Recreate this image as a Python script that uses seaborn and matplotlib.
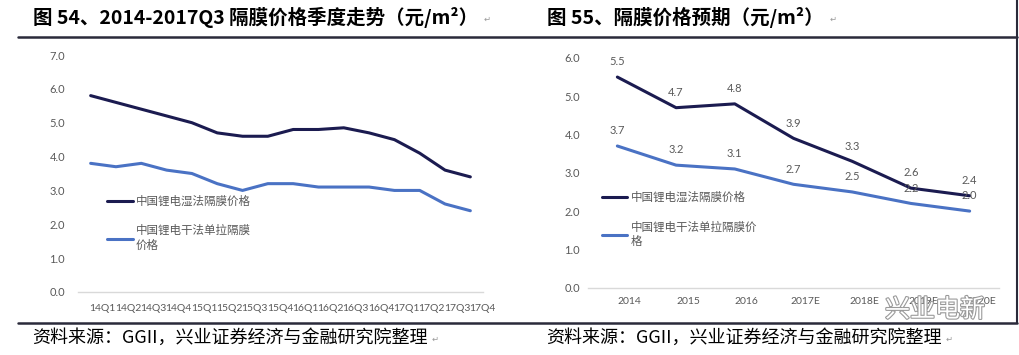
import matplotlib
matplotlib.use("Agg")
import matplotlib.pyplot as plt
import matplotlib.transforms as mtransforms
import matplotlib.patheffects as pe
from matplotlib.lines import Line2D
from matplotlib.ticker import FixedLocator
import pandas as pd
import seaborn as sns

# =============================
# DATOS
# =============================
quarters = ["14Q1", "14Q2", "14Q3", "14Q4", "15Q1", "15Q2", "15Q3", "15Q4",
            "16Q1", "16Q2", "16Q3", "16Q4", "17Q1", "17Q2", "17Q3", "17Q4"]
wet_quarterly = [5.8, 5.6, 5.4, 5.2, 5.0, 4.7, 4.6, 4.6,
                 4.8, 4.8, 4.85, 4.7, 4.5, 4.1, 3.6, 3.4]
dry_quarterly = [3.8, 3.7, 3.8, 3.6, 3.5, 3.2, 3.0, 3.2,
                 3.2, 3.1, 3.1, 3.1, 3.0, 3.0, 2.6, 2.4]

years = ["2014", "2015", "2016", "2017E", "2018E", "2019E", "2020E"]
wet_forecast = [5.5, 4.7, 4.8, 3.9, 3.3, 2.6, 2.4]
dry_forecast = [3.7, 3.2, 3.1, 2.7, 2.5, 2.2, 2.0]

wet_name = "中国锂电湿法隔膜价格"
dry_name_left = "中国锂电干法单拉隔膜\n价格"
dry_name_right = "中国锂电干法单拉隔膜价\n格"

title_left = "图 54、2014-2017Q3 隔膜价格季度走势（元/m²）"
title_right = "图 55、隔膜价格预期（元/m²）"
source_text = "资料来源：GGII，兴业证券经济与金融研究院整理"

DARK = "#1b1b50"
LIGHT = "#4a72c4"
GRAY = "#595959"
AXIS_GRAY = "#d9d9d9"

# =============================
# ESTILO
# =============================
sns.set_style("white")
plt.rcParams["font.family"] = ["Noto Sans CJK SC", "DejaVu Sans"]

W, H = 1020, 355
fig = plt.figure(figsize=(W / 100, H / 100), dpi=100)


def px_box(x0, x1, ytop, ybot):
    # caja de ejes en píxeles -> fracción de figura
    return [x0 / W, 1 - ybot / H, (x1 - x0) / W, (ybot - ytop) / H]


ax1 = fig.add_axes(px_box(78, 483, 55, 292))
ax2 = fig.add_axes(px_box(588, 999, 57.9, 287.7))


def long_df(cats, wet, dry, dry_name):
    return pd.DataFrame({
        "period": cats + cats,
        "price": wet + dry,
        "series": [wet_name] * len(cats) + [dry_name] * len(cats),
    })


def style_axis(ax, cats, ymax, label_pad_x, label_pad_y):
    n = len(cats)
    ax.set_xlim(-0.5, n - 0.5)
    ax.set_ylim(0, ymax)
    ax.set_yticks(range(0, ymax + 1))
    ax.set_yticklabels([f"{v:.1f}" for v in range(0, ymax + 1)])
    ax.set_xlabel("")
    ax.set_ylabel("")
    for side in ["top", "right", "left"]:
        ax.spines[side].set_visible(False)
    ax.spines["bottom"].set_color(AXIS_GRAY)
    ax.spines["bottom"].set_linewidth(1.0)
    ax.xaxis.set_minor_locator(FixedLocator([i - 0.5 for i in range(n + 1)]))
    ax.tick_params(axis="x", which="major", length=0, pad=label_pad_x,
                   labelsize=7.5, labelcolor=GRAY)
    ax.tick_params(axis="x", which="minor", length=4, color=AXIS_GRAY, width=1)
    ax.tick_params(axis="y", length=0, pad=label_pad_y, labelsize=8, labelcolor=GRAY)
    for lab in ax.get_xticklabels() + ax.get_yticklabels():
        lab.set_family(["Lato", "DejaVu Sans"])
    # las etiquetas del eje x aparecen algo desplazadas a la derecha en el original
    shift = mtransforms.ScaledTranslation(12 / 100, 0, fig.dpi_scale_trans)
    for lab in ax.get_xticklabels():
        lab.set_transform(lab.get_transform() + shift)


def add_legend(ax, x, y):
    handles, labels = ax.get_legend_handles_labels()
    leg = ax.legend(handles, labels, loc="upper left", bbox_to_anchor=(x, y),
                    frameon=False, fontsize=8.3, labelcolor=GRAY,
                    handlelength=2.2, handletextpad=0.3, labelspacing=1.4,
                    borderpad=0, borderaxespad=0)
    for line in leg.get_lines():
        line.set_linewidth(2.2)


# =============================
# 1. EVOLUCIÓN TRIMESTRAL
# =============================
df_q = long_df(quarters, wet_quarterly, dry_quarterly, dry_name_left)
sns.lineplot(data=df_q, x="period", y="price", hue="series",
             palette=[DARK, LIGHT], sort=False, linewidth=2.2, ax=ax1)
style_axis(ax1, quarters, 7, 8.5, 9.4)
add_legend(ax1, 0.072, 0.41)

# =============================
# 2. PREVISIÓN ANUAL
# =============================
df_y = long_df(years, wet_forecast, dry_forecast, dry_name_right)
sns.lineplot(data=df_y, x="period", y="price", hue="series",
             palette=[DARK, LIGHT], sort=False, linewidth=2.2, ax=ax2)
style_axis(ax2, years, 6, 7, 5.8)
add_legend(ax2, 0.034, 0.42)

for series in [wet_forecast, dry_forecast]:
    for cat, val in zip(years, series):
        ax2.annotate(f"{val:.1f}", xy=(cat, val), xytext=(0, 7), textcoords="offset points",
                     ha="center", va="bottom", fontsize=8, color=GRAY,
                     family=["Lato", "DejaVu Sans"])

# =============================
# TÍTULOS, FUENTES Y LÍNEAS
# =============================
for x, txt in [(33, title_left), (547, title_right)]:
    t = fig.text(x / W, 1 - 17 / H, txt, fontsize=14, fontweight="bold",
                 ha="left", va="center", color="black")
    fig.add_artist(matplotlib.text.Annotation(
        "↵", xy=(1, 0.2), xycoords=t, xytext=(4, 0), textcoords="offset points",
        fontsize=6, color="#999999", va="bottom", annotation_clip=False))

for x in [32, 546]:
    t = fig.text(x / W, 1 - 338 / H, source_text, fontsize=13, ha="left",
                 va="center", color="black")
    fig.add_artist(matplotlib.text.Annotation(
        "↵", xy=(1, 0.2), xycoords=t, xytext=(3, 0), textcoords="offset points",
        fontsize=6, color="#999999", va="bottom", annotation_clip=False))

fig.add_artist(Line2D([18 / W, 1017 / W], [1 - 37 / H] * 2, color="#2a2a3a", lw=1.8))
fig.add_artist(Line2D([18 / W, 1017 / W], [1 - 323 / H] * 2, color="#2a2a3a", lw=1.8))
fig.add_artist(Line2D([1017 / W, 1017 / W], [1 - 323 / H, 1.0], color="#2a2a3a", lw=1.5))

# marca de agua
fig.text(935 / W, 1 - 310 / H, "兴业电新", fontsize=18, ha="center", va="center",
         color="white", path_effects=[pe.withStroke(linewidth=1.6, foreground="#9a9a9a")])

fig.savefig("out.png", dpi=100)
